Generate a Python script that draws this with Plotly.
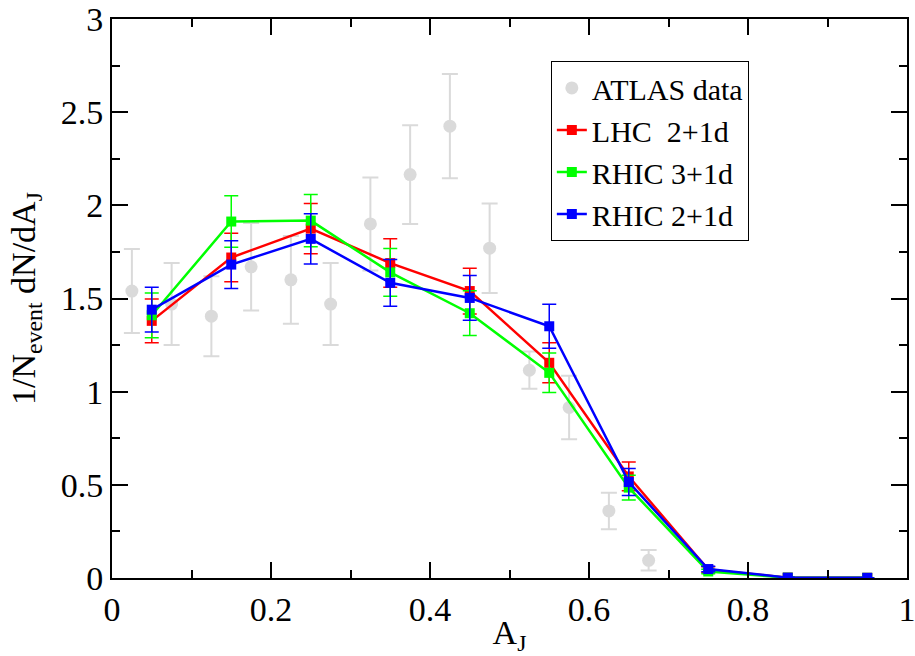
import plotly.graph_objects as go

# ATLAS data
atlas_x = [0.025, 0.075, 0.125, 0.175, 0.225, 0.275, 0.325, 0.375, 0.425, 0.475, 0.525, 0.575, 0.625, 0.675]
atlas_y = [1.54, 1.47, 1.405, 1.67, 1.60, 1.47, 1.90, 2.165, 2.425, 1.77, 1.115, 0.915, 0.36, 0.095]
atlas_err = [0.225, 0.22, 0.215, 0.235, 0.235, 0.22, 0.25, 0.265, 0.28, 0.24, 0.10, 0.17, 0.098, 0.055]

# model curves
aj = [0.05, 0.15, 0.25, 0.35, 0.45, 0.55, 0.65, 0.75, 0.85, 0.95]
lhc_y = [1.38, 1.72, 1.875, 1.69, 1.54, 1.155, 0.545, 0.045, 0.002, 0.001]
lhc_err = [0.117, 0.13, 0.135, 0.13, 0.123, 0.107, 0.077, 0.015, 0.002, 0.001]
rhic3_y = [1.41, 1.913, 1.918, 1.64, 1.421, 1.101, 0.485, 0.035, 0.002, 0.001]
rhic3_err = [0.12, 0.138, 0.14, 0.128, 0.12, 0.106, 0.067, 0.012, 0.002, 0.001]
rhic2_y = [1.44, 1.682, 1.82, 1.584, 1.503, 1.351, 0.515, 0.048, 0.002, 0.001]
rhic2_err = [0.12, 0.128, 0.135, 0.125, 0.12, 0.118, 0.072, 0.015, 0.002, 0.001]

FONT = "Liberation Serif"

fig = go.Figure()
fig.add_trace(go.Scatter(
    x=atlas_x, y=atlas_y, mode="markers", name="ATLAS data",
    marker=dict(symbol="circle", size=13, color="#dadada"),
    error_y=dict(type="data", array=atlas_err, color="#dadada", thickness=2, width=8),
))
for name, ys, es, col in [
    ("LHC  2+1d", lhc_y, lhc_err, "#ff0000"),
    ("RHIC 3+1d", rhic3_y, rhic3_err, "#00ff00"),
    ("RHIC 2+1d", rhic2_y, rhic2_err, "#0000ff"),
]:
    fig.add_trace(go.Scatter(
        x=aj, y=ys, mode="lines+markers", name=name,
        line=dict(color=col, width=2.5),
        marker=dict(symbol="square", size=10, color=col),
        error_y=dict(type="data", array=es, color=col, thickness=1.5, width=7),
    ))

axis_common = dict(
    showgrid=False, zeroline=False, showline=True, linecolor="black", linewidth=2,
    mirror="allticks", ticks="inside", ticklen=16, tickwidth=1.5, tickcolor="black",
    tickfont=dict(family=FONT, size=34, color="black"), automargin=False,
    ticklabeloverflow="allow",
)
fig.update_xaxes(
    range=[0, 1], tickmode="linear", tick0=0, dtick=0.2,
    minor=dict(ticks="inside", ticklen=8, dtick=0.1, tickcolor="black", tickwidth=1.5),
    title=dict(text="A<sub>J</sub>", font=dict(family=FONT, size=34, color="black")),
    **axis_common,
)
fig.update_yaxes(
    range=[0, 3], tickmode="linear", tick0=0, dtick=0.5,
    minor=dict(ticks="inside", ticklen=8, dtick=0.25, tickcolor="black", tickwidth=1.5),
    title=dict(text="1/N<sub>event</sub> dN/dA<sub>J</sub>", font=dict(family=FONT, size=34, color="black")),
    **axis_common,
)
fig.update_layout(
    width=915, height=656,
    margin=dict(l=112, r=8, t=19, b=78),
    plot_bgcolor="white", paper_bgcolor="white",
    font=dict(family=FONT, size=34, color="black"),
    legend=dict(
        x=0.552, y=0.925, xanchor="left", yanchor="top",
        bgcolor="white", bordercolor="black", borderwidth=1,
        font=dict(family=FONT, size=30, color="black"),
        tracegroupgap=0, itemwidth=30,
    ),
    showlegend=True,
)
fig.write_html("out.html")
